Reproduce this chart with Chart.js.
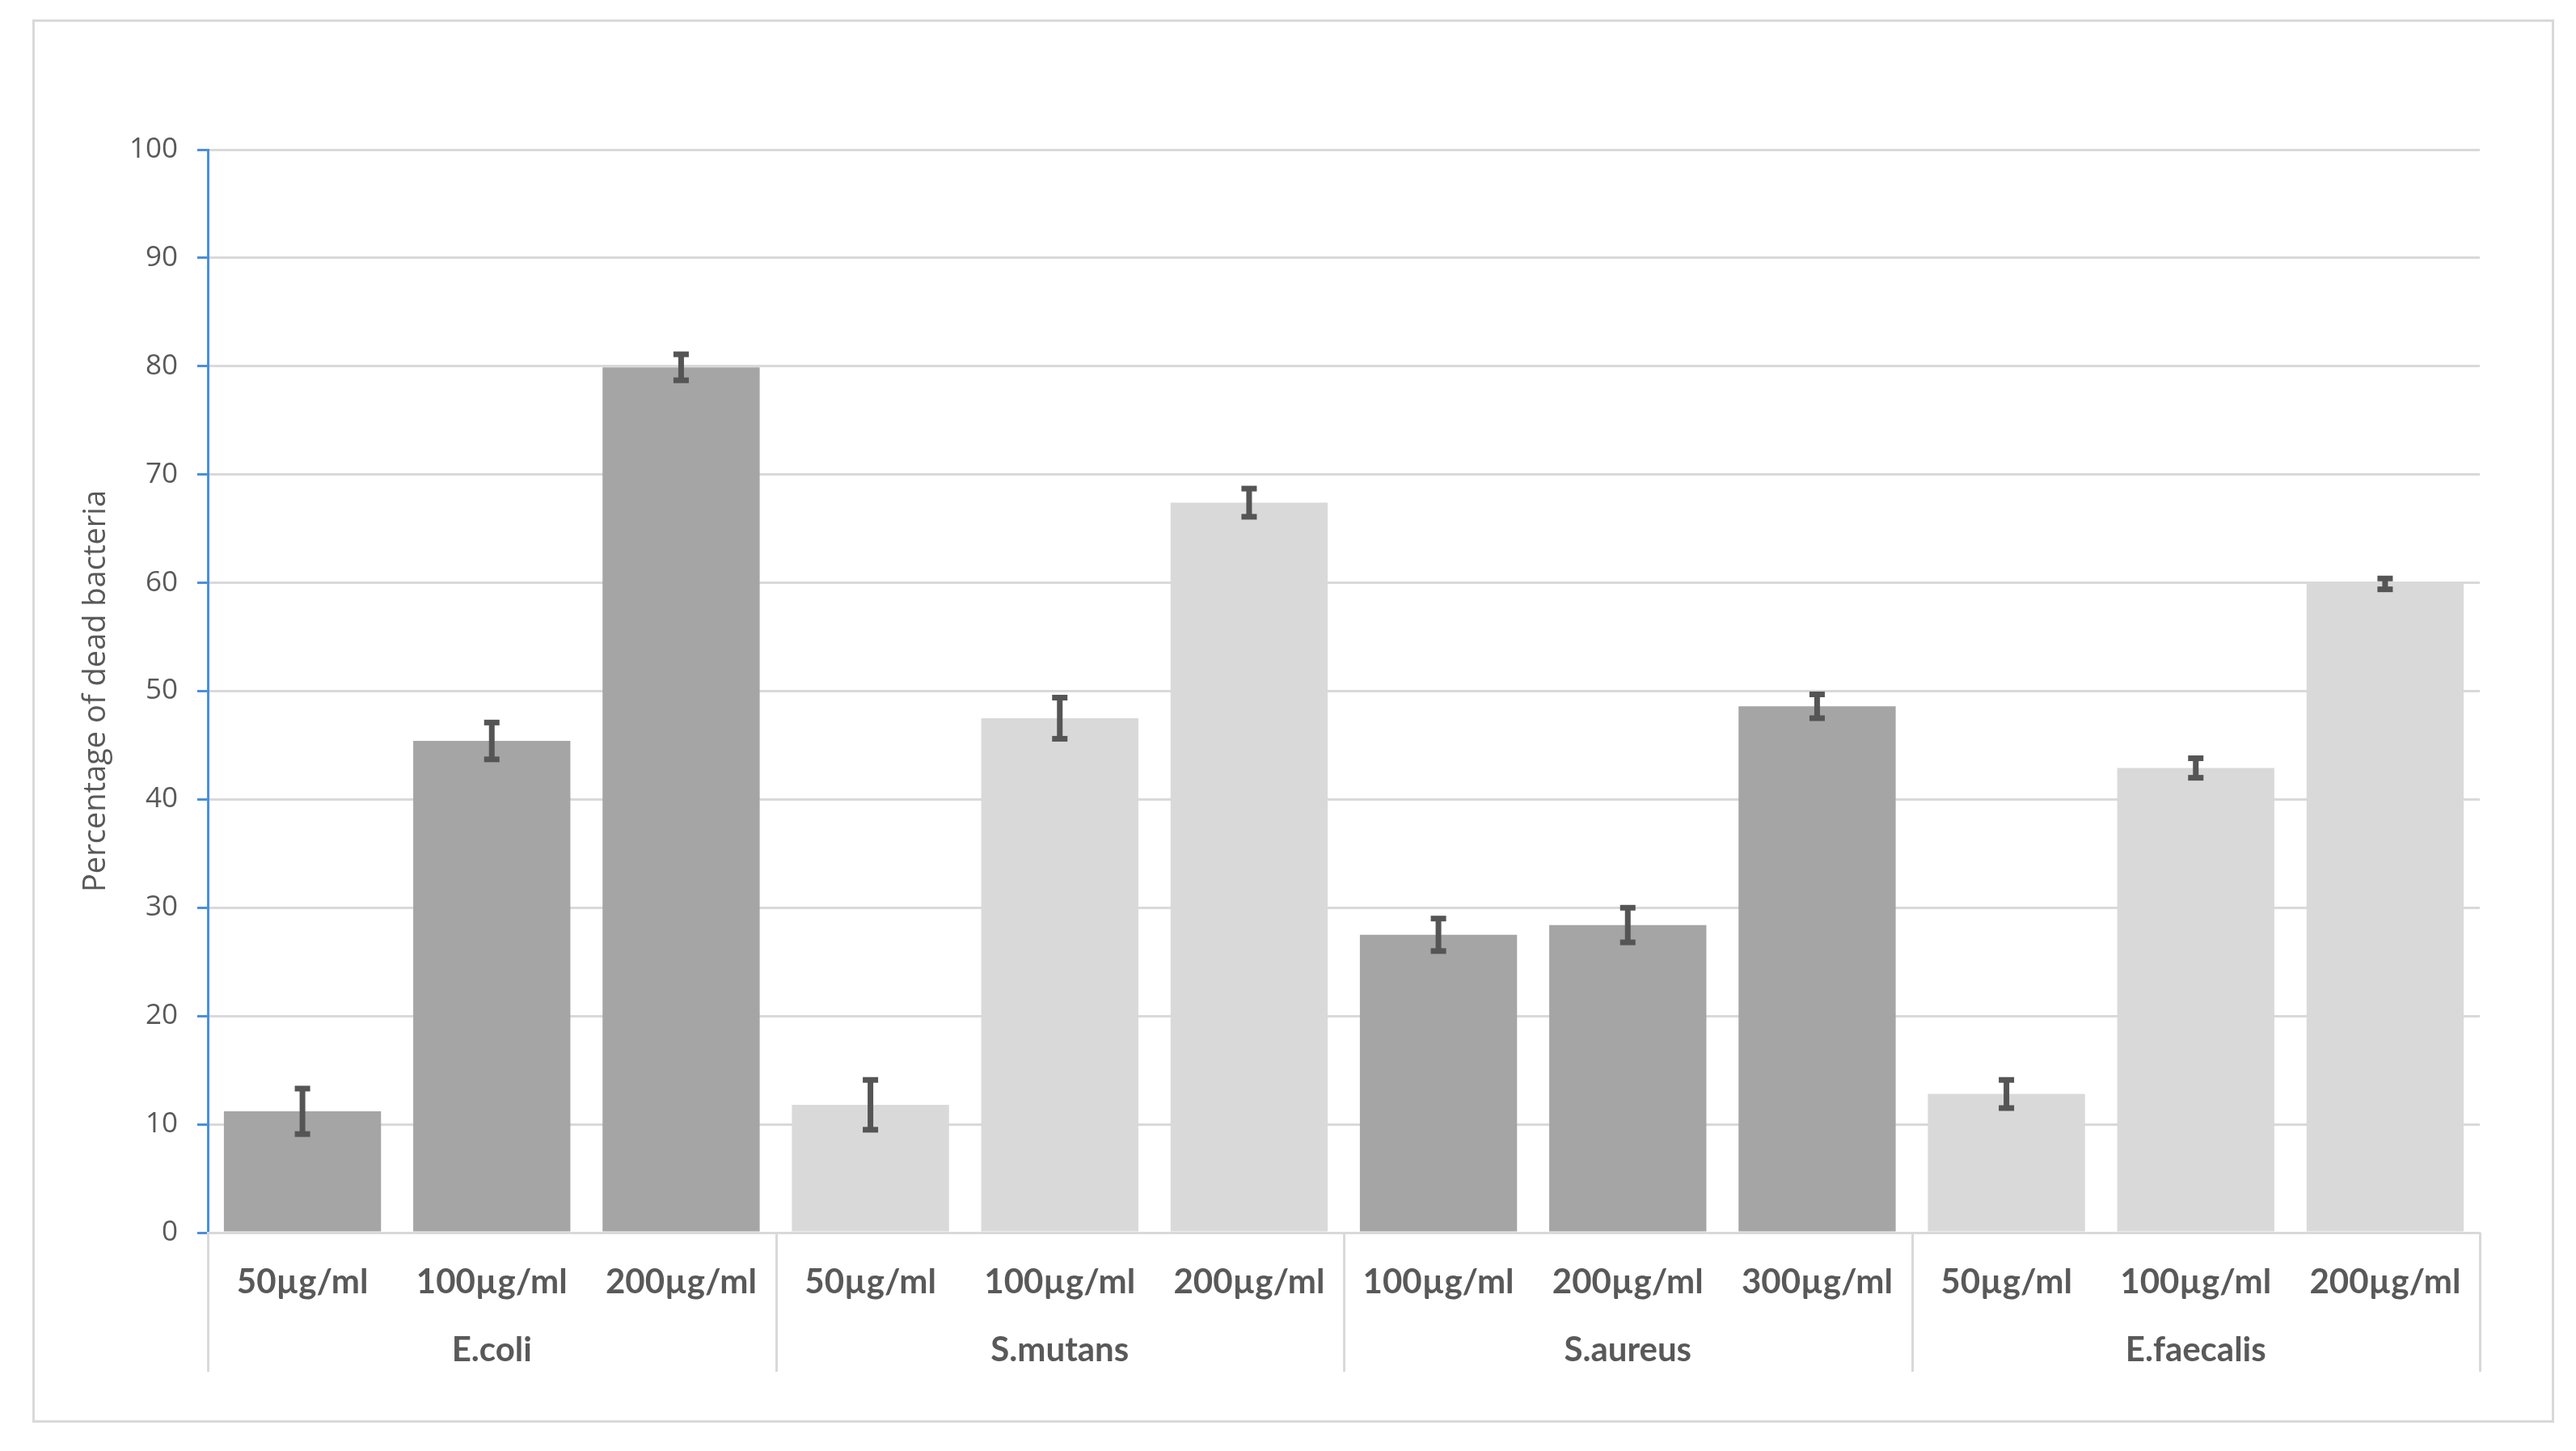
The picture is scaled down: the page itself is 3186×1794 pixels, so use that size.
<!DOCTYPE html>
<html>
<head>
<meta charset="utf-8">
<script src="https://cdn.jsdelivr.net/npm/chart.js@4.4.1/dist/chart.umd.min.js"></script>
<style>
  html, body { margin: 0; padding: 0; background: #ffffff; }
  #wrap { width: 3186px; height: 1794px; position: relative; }
</style>
</head>
<body>
<div id="wrap"><canvas id="c"></canvas></div>
<script>
// ---- data ----
const categories = ['50µg/ml','100µg/ml','200µg/ml','50µg/ml','100µg/ml','200µg/ml','100µg/ml','200µg/ml','300µg/ml','50µg/ml','100µg/ml','200µg/ml'];
const groups = ['E.coli','S.mutans','S.aureus','E.faecalis'];
const values = [11.2, 45.4, 79.9, 11.8, 47.5, 67.4, 27.5, 28.4, 48.6, 12.8, 42.9, 59.9];
const errors = [2.1, 1.7, 1.2, 2.3, 1.9, 1.3, 1.5, 1.6, 1.1, 1.3, 0.9, 0.5];
const yTicks = [0, 10, 20, 30, 40, 50, 60, 70, 80, 90, 100];
const yTitle = 'Percentage of dead bacteria';

// ---- styles ----
const groupColors = ['#A5A5A5', '#D9D9D9', '#A5A5A5', '#D9D9D9'];
const perGroup = categories.length / groups.length;
const barColors = categories.map((_, i) => groupColors[Math.floor(i / perGroup)]);
const textColor = '#595959';
const gridColor = '#D9D9D9';
const axisBlue = '#4A8FDB';
const errColor = '#555555';

const decor = {
  id: 'decor',
  beforeDraw(chart) {
    const ctx = chart.ctx;
    ctx.save();
    ctx.fillStyle = '#ffffff';
    ctx.fillRect(0, 0, chart.width, chart.height);
    ctx.strokeStyle = gridColor;
    ctx.lineWidth = 3;
    ctx.strokeRect(41.5, 25.5, 3116, 1732);
    ctx.restore();
  },
  afterDraw(chart) {
    const ctx = chart.ctx;
    const xs = chart.scales.x;
    const x2 = chart.scales.x2;
    ctx.save();
    ctx.strokeStyle = gridColor;
    ctx.lineWidth = 3;
    for (let g = 0; g <= groups.length; g++) {
      const px = Math.round(xs.getPixelForValue(g * perGroup - 0.5)) + 0.5;
      ctx.beginPath();
      ctx.moveTo(px, chart.chartArea.bottom);
      ctx.lineTo(px, x2.bottom);
      ctx.stroke();
    }
    ctx.restore();
  },
  afterDatasetsDraw(chart) {
    const ctx = chart.ctx;
    const ys = chart.scales.y;
    const meta = chart.getDatasetMeta(0);
    ctx.save();
    ctx.strokeStyle = errColor;
    ctx.fillStyle = errColor;
    ctx.lineWidth = 7;
    meta.data.forEach((bar, i) => {
      const x = bar.x;
      const yHi = ys.getPixelForValue(values[i] + errors[i]);
      const yLo = ys.getPixelForValue(values[i] - errors[i]);
      ctx.beginPath();
      ctx.moveTo(x, yHi);
      ctx.lineTo(x, yLo);
      ctx.stroke();
      const cw = 19, ch = 7;
      ctx.fillRect(x - cw / 2, yHi - ch / 2, cw, ch);
      ctx.fillRect(x - cw / 2, yLo - ch / 2, cw, ch);
    });
    ctx.restore();
  }
};

new Chart(document.getElementById('c'), {
  type: 'bar',
  data: {
    labels: categories,
    datasets: [{
      data: values,
      backgroundColor: barColors,
      borderWidth: 0,
      barPercentage: 0.83,
      categoryPercentage: 1.0
    }]
  },
  options: {
    responsive: true,
    maintainAspectRatio: false,
    animation: false,
    devicePixelRatio: 1,
    layout: { padding: { left: 41, right: 119, top: 185, bottom: 98 } },
    plugins: { legend: { display: false }, tooltip: { enabled: false } },
    scales: {
      y: {
        min: 0, max: 100,
        afterFit(s) { s.width = 216; },
        afterBuildTicks(s) { s.ticks = yTicks.map(v => ({ value: v })); },
        ticks: {
          stepSize: 10,
          color: textColor,
          padding: 24,
          font: { family: '"Open Sans", "DejaVu Sans", sans-serif', size: 35 }
        },
        grid: {
          color: gridColor,
          lineWidth: 3,
          tickColor: axisBlue,
          tickLength: 13,
          tickWidth: 3
        },
        border: { display: true, color: axisBlue, width: 3 },
        title: {
          display: true,
          text: yTitle,
          color: textColor,
          padding: { top: 55, bottom: 0 },
          font: { family: '"Open Sans", "DejaVu Sans", sans-serif', size: 38 }
        }
      },
      x: {
        weight: 0,
        afterFit(s) { s.height = 100; },
        ticks: {
          color: textColor,
          padding: 36,
          maxRotation: 0,
          autoSkip: false,
          font: { family: 'Lato, "Open Sans", sans-serif', size: 42, weight: 'bold' }
        },
        grid: { drawOnChartArea: false, drawTicks: false },
        border: { display: true, color: gridColor, width: 3 }
      },
      x2: {
        type: 'category',
        labels: groups,
        position: 'bottom',
        offset: true,
        weight: 1,
        afterFit(s) { s.height = 72; },
        ticks: {
          color: textColor,
          padding: 20,
          maxRotation: 0,
          autoSkip: false,
          font: { family: 'Lato, "Open Sans", sans-serif', size: 42, weight: 'bold' }
        },
        grid: { display: false, drawTicks: false },
        border: { display: false }
      }
    }
  },
  plugins: [decor]
});
</script>
</body>
</html>
